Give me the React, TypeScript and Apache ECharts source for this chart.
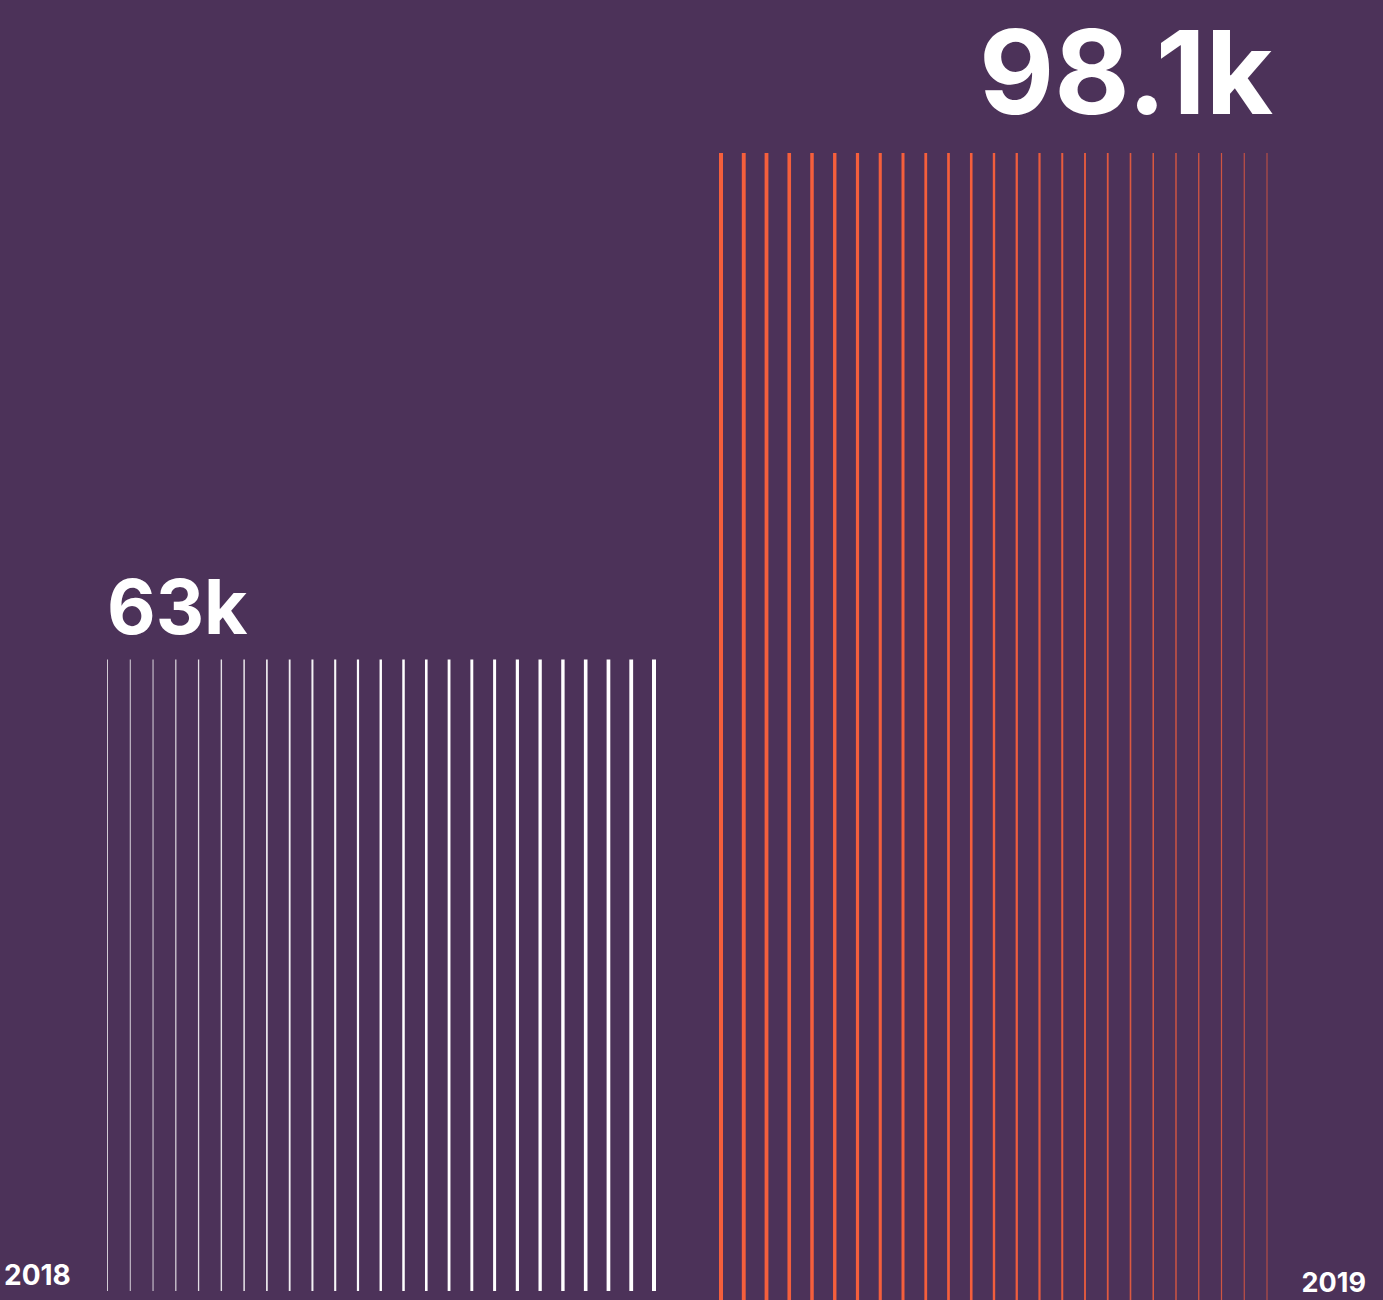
import React, { useEffect, useRef } from "react";
import * as echarts from "echarts";

// ---- data ----
const years = ["2018", "2019"];
const totals = [63000, 98100];
const totalLabels = ["63k", "98.1k"];
const lineSlots = [0, 1, 2, 3, 4, 5, 6, 7, 8, 9, 10, 11, 12, 13, 14, 15, 16, 17, 18, 19, 20, 21, 22, 23, 24];

// ---- style (line stroke widths, left to right) ----
const widths2018 = [1, 1, 1, 1.2, 1.3, 1.4, 1.5, 1.7, 1.8, 2, 2.1, 2.2, 2.4, 2.5, 2.6, 2.8, 2.9, 3, 3.2, 3.3, 3.4, 3.6, 3.7, 3.8, 4];
const widths2019 = [4, 3.9, 3.8, 3.6, 3.5, 3.4, 3.2, 3.1, 3, 2.8, 2.7, 2.6, 2.4, 2.3, 2.2, 2, 1.9, 1.8, 1.6, 1.5, 1.4, 1.3, 1.2, 1.1, 1];
const opac2018 = [0.75, 0.78, 0.8, 0.82, 0.84, 0.86, 0.88, 0.9, 0.92, 0.94, 0.96, 0.98, 1, 1, 1, 1, 1, 1, 1, 1, 1, 1, 1, 1, 1];
const opac2019 = [1, 1, 1, 1, 1, 1, 1, 1, 1, 1, 1, 1, 0.98, 0.96, 0.94, 0.92, 0.9, 0.88, 0.86, 0.84, 0.82, 0.8, 0.78, 0.76, 0.74];

const Y_MIN = 20000;
const Y_MAX = 100000;
const BG = "#4C3259";
const WHITE = "#FFFFFF";
const ORANGE = "#F55F3C";
const FONT = "Inter";

function makeRender(widths: number[], opac: number[], color: string) {
  return (params: any, api: any) => {
    const x = api.value(0);
    const v = api.value(1);
    const top = api.coord([x, v]);
    const base = api.coord([x, Y_MIN]);
    const w = widths[params.dataIndex];
    return {
      type: "rect",
      shape: { x: top[0] - w / 2, y: top[1], width: w, height: base[1] - top[1] },
      style: { fill: color, opacity: opac[params.dataIndex] },
    };
  };
}

export default function App() {
  const ref = useRef<HTMLDivElement>(null);
  useEffect(() => {
    if (!ref.current) return;
    const chart = echarts.init(ref.current, null, { renderer: "svg" });
    const data2018 = lineSlots.map((s) => [s, totals[0]]);
    const data2019 = lineSlots.map((s) => [s, totals[1]]);
    chart.setOption({
      animation: false,
      backgroundColor: BG,
      grid: [
        { left: 107.5, width: 546.5, top: 116, bottom: 9 },
        { left: 721, width: 546, top: 125, bottom: 0 },
      ],
      xAxis: [
        { type: "value", gridIndex: 0, min: 0, max: 24, show: false },
        { type: "value", gridIndex: 1, min: 0, max: 24, show: false },
      ],
      yAxis: [
        { type: "value", gridIndex: 0, min: Y_MIN, max: Y_MAX, show: false },
        { type: "value", gridIndex: 1, min: Y_MIN, max: Y_MAX, show: false },
      ],
      series: [
        {
          name: years[0],
          type: "custom",
          xAxisIndex: 0,
          yAxisIndex: 0,
          clip: false,
          renderItem: makeRender(widths2018, opac2018, WHITE),
          data: data2018,
        },
        {
          name: years[1],
          type: "custom",
          xAxisIndex: 1,
          yAxisIndex: 1,
          clip: false,
          renderItem: makeRender(widths2019, opac2019, ORANGE),
          data: data2019,
        },
      ],
      graphic: [
        {
          type: "text",
          left: 107,
          top: 569,
          style: { text: totalLabels[0], fill: WHITE, font: `700 75px ${FONT}` },
        },
        {
          type: "text",
          right: 110,
          top: 13.5,
          style: { text: totalLabels[1], fill: WHITE, font: `700 116px ${FONT}` },
        },
        {
          type: "text",
          left: 4,
          top: 1261,
          style: { text: years[0], fill: WHITE, font: `700 28px ${FONT}` },
        },
        {
          type: "text",
          right: 17,
          top: 1269,
          style: { text: years[1], fill: WHITE, font: `700 27px ${FONT}` },
        },
      ],
    });
    return () => chart.dispose();
  }, []);
  return (
    <div
      ref={ref}
      style={{ position: "absolute", left: 0, top: 0, width: 1383, height: 1300 }}
    />
  );
}
